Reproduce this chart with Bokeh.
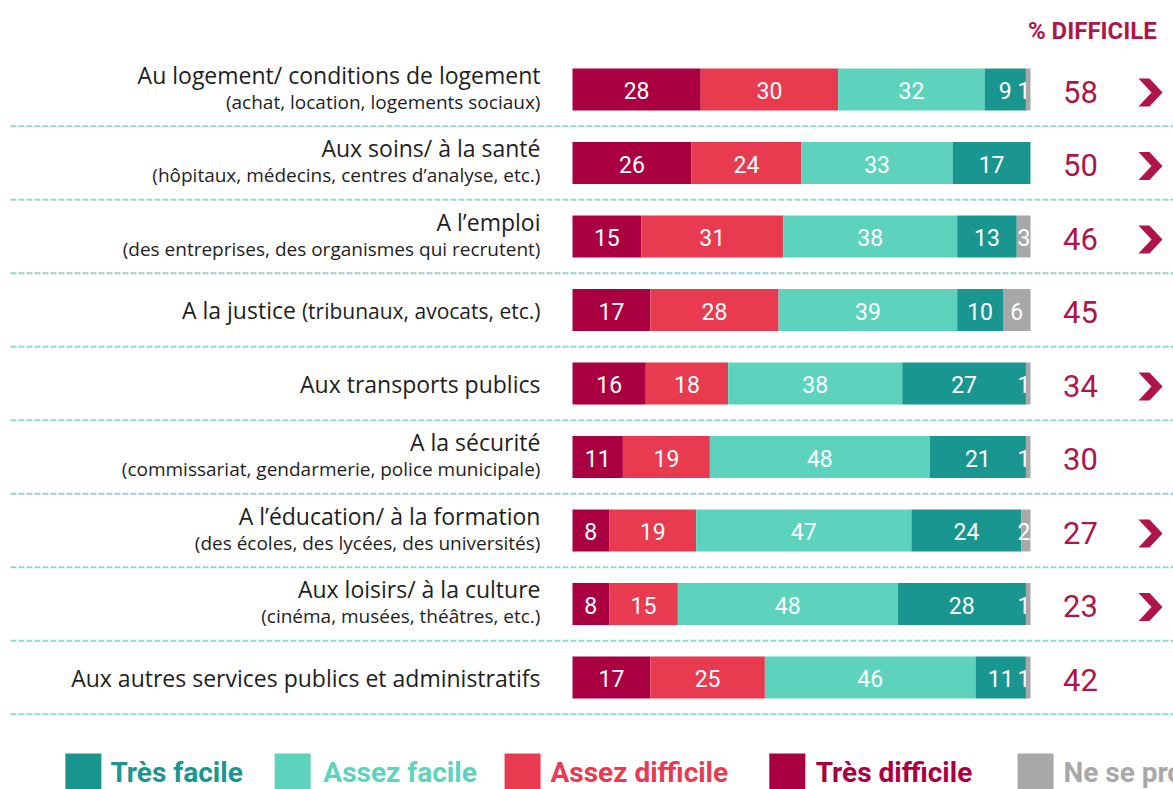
from bokeh.plotting import figure
from bokeh.models import Range1d, ColumnDataSource
from bokeh.embed import file_html
from bokeh.resources import INLINE
from bokeh.core.properties import value

# ---------------- data ----------------
labels_main = [
    "Au logement/ conditions de logement",
    "Aux soins/ à la santé",
    "A l’emploi",
    "A la justice",
    "Aux transports publics",
    "A la sécurité",
    "A l’éducation/ à la formation",
    "Aux loisirs/ à la culture",
    "Aux autres services publics et administratifs",
]
labels_sub = [
    "(achat, location, logements sociaux)",
    "(hôpitaux, médecins, centres d’analyse, etc.)",
    "(des entreprises, des organismes qui recrutent)",
    "(tribunaux, avocats, etc.)",
    "",
    "(commissariat, gendarmerie, police municipale)",
    "(des écoles, des lycées, des universités)",
    "(cinéma, musées, théâtres, etc.)",
    "",
]
tres_difficile = [28, 26, 15, 17, 16, 11, 8, 8, 17]
assez_difficile = [30, 24, 31, 28, 18, 19, 19, 15, 25]
assez_facile = [32, 33, 38, 39, 38, 48, 47, 48, 46]
tres_facile = [9, 17, 13, 10, 27, 21, 24, 28, 11]
ne_se_prononce = [1, 0, 3, 6, 1, 1, 2, 1, 1]
pct_difficile = [58, 50, 46, 45, 34, 30, 27, 23, 42]
has_arrow = [True, True, True, False, True, False, True, True, False]
series_names = ["Très facile", "Assez facile", "Assez difficile", "Très difficile", "Ne se prononce pas"]

# ---------------- styles ----------------
C_TD = "#aa0042"
C_AD = "#e83b50"
C_AF = "#5dd3bd"
C_TF = "#1a9690"
C_NSP = "#a8a8a8"
C_CRIMSON = "#b0154a"
C_TXT = "#1e1e1e"
FONT = value("Roboto")
LFONT = value("Open Sans")

W, H = 1173, 789
PX = 4.58          # px per percent
X0 = 572           # px of 0 %
ROW = 73.5         # px per row
Y0 = 89            # px of first row centre

p = figure(width=W, height=H,
           x_range=Range1d(-X0 / PX, (W - X0) / PX),
           y_range=Range1d((H - Y0) / ROW, -Y0 / ROW),
           x_axis_type=None, y_axis_type=None,
           output_backend="svg", toolbar_location=None, min_border=0)
p.grid.visible = False
p.outline_line_color = None
p.background_fill_color = "white"
p.border_fill_color = "white"

n = len(labels_main)
rows = list(range(n))

# separators
p.segment(x0=[-122.7] * n, x1=[140] * n, y0=[r + 0.5 for r in rows], y1=[r + 0.5 for r in rows],
          line_color="#95d6d3", line_width=2, line_dash="6 2")

# stacked bars
src = ColumnDataSource(dict(row=rows, td=tres_difficile, ad=assez_difficile, af=assez_facile,
                            tf=tres_facile, nsp=ne_se_prononce))
p.hbar_stack(["td", "ad", "af", "tf", "nsp"], y="row", height=0.57,
             color=[C_TD, C_AD, C_AF, C_TF, C_NSP], line_color=None, source=src)

# segment labels
lx, ly, lt, ax = [], [], [], []
for r in rows:
    vals = [tres_difficile[r], assez_difficile[r], assez_facile[r], tres_facile[r], ne_se_prononce[r]]
    cum = 0
    for k, v in enumerate(vals):
        if v > 0:
            if k == 4 and v < 5:
                lx.append(cum + v)
                ax.append("right")
            else:
                lx.append(cum + v / 2)
                ax.append("center")
            ly.append(r)
            lt.append(str(v))
        cum += v
lsrc = ColumnDataSource(dict(x=lx, y=ly, t=lt, a=ax))
p.text(x="x", y="y", text="t", text_align="a", source=lsrc, text_baseline="middle",
       text_color="white", text_font=FONT, text_font_size="23px", y_offset=1)

# category labels
LX = -7.0
for r in rows:
    main, sub = labels_main[r], labels_sub[r]
    if sub and r != 3:
        p.text(x=[LX], y=[r], text=[main], text_align="right", text_baseline="middle",
               y_offset=-15, text_color=C_TXT, text_font=LFONT, text_font_size="23px")
        p.text(x=[LX], y=[r], text=[sub], text_align="right", text_baseline="middle",
               y_offset=12, text_color=C_TXT, text_font=LFONT, text_font_size="19px")
    elif sub:
        p.text(x=[LX], y=[r], text=[sub], text_align="right", text_baseline="middle",
               y_offset=1, text_color=C_TXT, text_font=LFONT, text_font_size="21px")
        p.text(x=[-60.4], y=[r], text=[main], text_align="right", text_baseline="middle",
               text_color=C_TXT, text_font=LFONT, text_font_size="23px")
    else:
        p.text(x=[LX], y=[r], text=[main], text_align="right", text_baseline="middle",
               text_color=C_TXT, text_font=LFONT, text_font_size="23px")

# % difficile column
p.text(x=[113.5], y=[-0.80], text=["% DIFFICILE"], text_align="center", text_baseline="middle",
       text_color=C_CRIMSON, text_font=FONT, text_font_size="24px", text_font_style="bold")
p.text(x=[110.9] * n, y=rows, text=[str(v) for v in pct_difficile], text_align="center",
       text_baseline="middle", text_color=C_CRIMSON, text_font=FONT, text_font_size="31px", y_offset=2)

# chevron arrows (decorative), shape in px around the arrow centre
AX = (1150 - X0) / PX
shape = [(-12, -14), (-1, -14), (12, 0), (-1, 14), (-12, 14), (1, 0)]
xs, ys = [], []
for r in rows:
    if has_arrow[r]:
        xs.append([AX + dx / PX for dx, dy in shape])
        ys.append([r + (dy + 3) / ROW for dx, dy in shape])
p.patches(xs=xs, ys=ys, fill_color=C_CRIMSON, line_color=None)

# legend
leg_colors = [C_TF, C_AF, C_AD, C_TD, C_NSP]
sq_x = [-106.8, -61.1, -10.9, 46.9, 101.1]
tx_x = [-100.9, -54.4, -4.8, 53.1, 107.2]
LEGY = (771 - Y0) / ROW
p.rect(x=sq_x, y=[LEGY] * 5, width=36, height=36, width_units="screen", height_units="screen",
       fill_color=leg_colors, line_color=None)
for i in range(5):
    p.text(x=[tx_x[i]], y=[LEGY], text=[series_names[i]], text_align="left", text_baseline="middle",
           text_color=leg_colors[i], text_font=FONT, text_font_size="28px", text_font_style="bold",
           y_offset=1)

open("out.html", "w").write(file_html(p, INLINE))
